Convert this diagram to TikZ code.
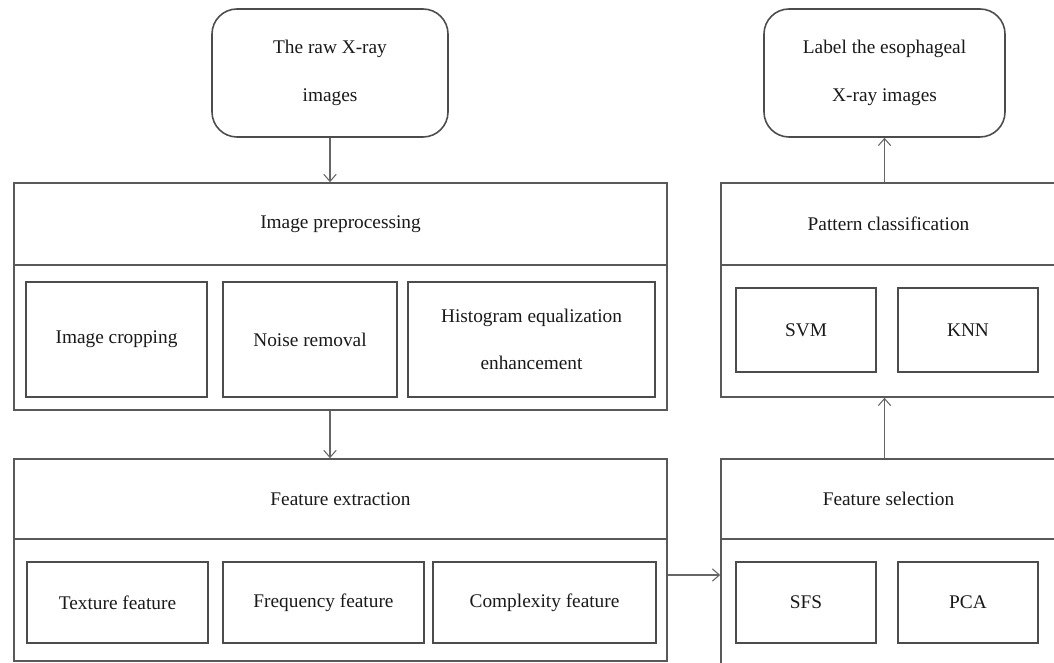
\documentclass[tikz,border=0pt]{standalone}
\usepackage{fontspec}
\setmainfont{Liberation Serif}
\usetikzlibrary{arrows.meta}
\tikzset{
  end box/.style={
    draw=black!70,
    line width=0.9pt,
    rounded corners=0.5cm,
    align=center,
    inner sep=0pt,
    execute at begin node={\rule{0pt}{28pt}},
    text=black!90,
    font=\fontsize{11}{27}\selectfont
  },
  outer box/.style={
    draw=black!65,
    line width=0.9pt,
    inner sep=0pt
  },
  inner box/.style={
    draw=black!70,
    line width=0.9pt,
    align=center,
    inner sep=0pt,
    text=black!90,
    font=\fontsize{11}{27}\selectfont
  },
  title/.style={
    text=black!90,
    font=\fontsize{11}{13}\selectfont
  },
  frame/.style={
    draw=black!65,
    line width=0.9pt
  },
  flow/.style={
    -{Straight Barb[length=4pt, width=7pt]},
    draw=black!60,
    line width=0.6pt
  }
}

\begin{document}
\begin{tikzpicture}
    \useasboundingbox (0,0) rectangle (21.08,13.26);

    % start and end
    \node[end box, minimum width=4.72cm, minimum height=2.56cm] (raw) at (6.60,11.80) {The raw X-ray\\images};
    \node[end box, minimum width=4.82cm, minimum height=2.56cm] (label) at (17.69,11.80) {Label the esophageal\\X-ray images};

    % image preprocessing
    \node[outer box, minimum width=13.06cm, minimum height=4.54cm] (pre) at (6.81,7.33) {};
    \draw[frame] ([yshift=-1.66cm]pre.north west) -- ([yshift=-1.66cm]pre.north east);
    \node[title] (pretitle) at ([yshift=-0.83cm]pre.north) {Image preprocessing};
    \node[inner box, minimum width=3.62cm, minimum height=2.30cm] (crop) at (2.33,6.47) {Image cropping};
    \node[inner box, minimum width=3.48cm, minimum height=2.30cm] (noise) at (6.20,6.47) {Noise removal};
    \node[inner box, minimum width=4.94cm, minimum height=2.30cm] (hist) at (10.63,6.47) {Histogram equalization\\enhancement};

    % feature extraction
    \node[outer box, minimum width=13.06cm, minimum height=4.04cm] (ext) at (6.81,2.06) {};
    \draw[frame] ([yshift=-1.62cm]ext.north west) -- ([yshift=-1.62cm]ext.north east);
    \node[title] (exttitle) at ([yshift=-0.81cm]ext.north) {Feature extraction};
    \node[inner box, minimum width=3.62cm, minimum height=1.62cm] (texture) at (2.35,1.21) {Texture feature};
    \node[inner box, minimum width=4.02cm, minimum height=1.62cm] (freq) at (6.47,1.21) {Frequency feature};
    \node[inner box, minimum width=4.46cm, minimum height=1.62cm] (complex) at (10.89,1.21) {Complexity feature};

    % feature selection
    \node[outer box, minimum width=6.70cm, minimum height=4.16cm] (sel) at (17.77,2.00) {};
    \draw[frame] ([yshift=-1.62cm]sel.north west) -- ([yshift=-1.62cm]sel.north east);
    \node[title] (seltitle) at ([yshift=-0.81cm]sel.north) {Feature selection};
    \node[inner box, minimum width=2.80cm, minimum height=1.62cm] (sfs) at (16.12,1.21) {SFS};
    \node[inner box, minimum width=2.80cm, minimum height=1.62cm] (pca) at (19.36,1.21) {PCA};

    % pattern classification
    \node[outer box, minimum width=6.70cm, minimum height=4.28cm] (pat) at (17.77,7.46) {};
    \draw[frame] ([yshift=-1.66cm]pat.north west) -- ([yshift=-1.66cm]pat.north east);
    \node[title] (pattitle) at ([yshift=-0.83cm]pat.north) {Pattern classification};
    \node[inner box, minimum width=2.80cm, minimum height=1.68cm] (svm) at (16.12,6.66) {SVM};
    \node[inner box, minimum width=2.80cm, minimum height=1.68cm] (knn) at (19.36,6.66) {KNN};

    % arrows
    \coordinate (link) at ([yshift=-0.30cm]ext.east);
    \draw[flow] (raw.south) -- (raw.south |- pre.north);
    \draw[flow] (pre.south -| raw) -- (ext.north -| raw);
    \draw[flow] (link) -- (link -| sel.west);
    \draw[flow] (sel.north -| label) -- (pat.south -| label);
    \draw[flow] (pat.north -| label) -- (label.south);

\end{tikzpicture}
\end{document}
